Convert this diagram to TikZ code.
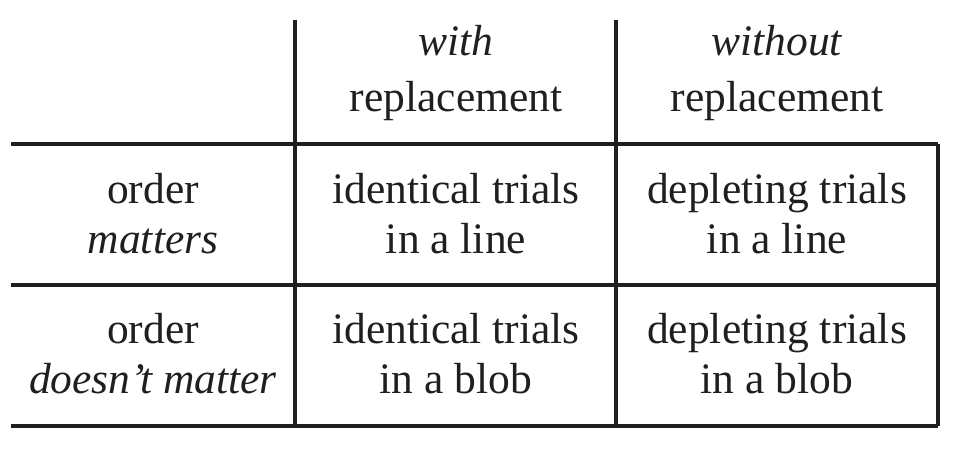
\documentclass[tikz,border=0pt]{standalone}
\usepackage{fontspec}
\setmainfont{Liberation Serif}
\begin{document}
\begin{tikzpicture}[x=1pt,y=-1pt,
  rule/.style={line width=3.1pt,color=black!88},
  cell/.style={anchor=base,inner sep=0pt,font=\fontsize{43.5}{50}\selectfont,text=black!88}]
\useasboundingbox (0,0) rectangle (976,452);
% grid lines
\draw[rule] (11,144) -- (938,144);
\draw[rule] (11,285) -- (938,285);
\draw[rule] (11,426) -- (938,426);
\draw[rule] (295,20) -- (295,426);
\draw[rule] (616,20) -- (616,426);
\draw[rule] (938,144) -- (938,426);
% header
\node[cell] (h1a) at (456,56) {\textit{with}};
\node[cell] (h1b) at (456,111) {replacement};
\node[cell] (h2a) at (777,56) {\textit{without}};
\node[cell] (h2b) at (777,111) {replacement};
% row labels
\node[cell] (r1a) at (153,203) {order};
\node[cell] (r1b) at (153,253) {\textit{matters}};
\node[cell] (r2a) at (153,343) {order};
\node[cell] (r2b) at (153,393) {\textit{doesn’t matter}};
% cells
\node[cell] (c11a) at (456,203) {identical trials};
\node[cell] (c11b) at (456,253) {in a line};
\node[cell] (c12a) at (777,203) {depleting trials};
\node[cell] (c12b) at (777,253) {in a line};
\node[cell] (c21a) at (456,343) {identical trials};
\node[cell] (c21b) at (456,393) {in a blob};
\node[cell] (c22a) at (777,343) {depleting trials};
\node[cell] (c22b) at (777,393) {in a blob};
\end{tikzpicture}
\end{document}
